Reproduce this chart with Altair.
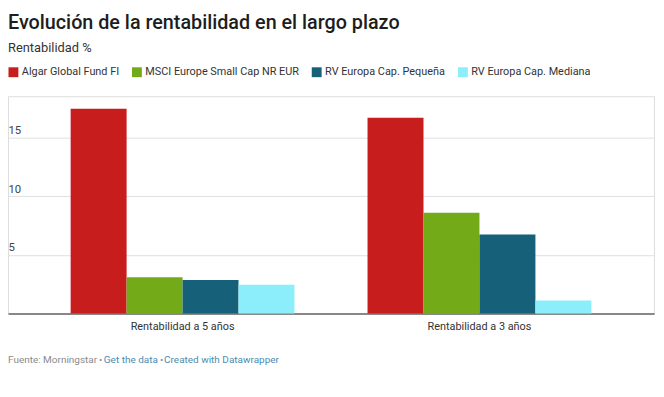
import altair as alt
import pandas as pd

# ---- data ----
periods = ["Rentabilidad a 5 años", "Rentabilidad a 3 años"]
series = ["Algar Global Fund FI", "MSCI Europe Small Cap NR EUR",
          "RV Europa Cap. Pequeña", "RV Europa Cap. Mediana"]
colors = ["#c71e1d", "#73ab18", "#17607a", "#8ceefa"]
values_5y = [17.47, 3.10, 2.87, 2.45]
values_3y = [16.71, 8.61, 6.75, 1.12]
y_ticks = [5, 10, 15]

title_text = "Evolución de la rentabilidad en el largo plazo"
subtitle_text = "Rentabilidad %"
footer_parts = [("Fuente: Morningstar", "#8a8a8a"), ("•", "#8a8a8a"),
                ("Get the data", "#4d8bb0"), ("•", "#8a8a8a"),
                ("Created with Datawrapper", "#4d8bb0")]

rows = []
for p, vals in zip(periods, [values_5y, values_3y]):
    for s, v in zip(series, vals):
        rows.append({"periodo": p, "serie": s, "valor": v})
df = pd.DataFrame(rows)

W, H = 654, 220
FONT = "Roboto"

bars = alt.Chart(df).mark_bar(strokeWidth=0).encode(
    x=alt.X("periodo:N", sort=periods,
            scale=alt.Scale(paddingInner=0.246, paddingOuter=0.211),
            axis=alt.Axis(title=None, labelAngle=0, ticks=False, domain=True,
                          domainColor="#222222", domainWidth=1.2,
                          labelFontSize=11, labelColor="#333333",
                          labelPadding=7, labelFont=FONT)),
    xOffset=alt.XOffset("serie:N", sort=series,
                        scale=alt.Scale(paddingInner=0, paddingOuter=0)),
    y=alt.Y("valor:Q", scale=alt.Scale(domain=[0, 18.55], nice=False, zero=True),
            axis=alt.Axis(title=None, values=y_ticks, ticks=False, tickSize=0,
                          domain=False, grid=True, gridColor="#e0e0e0",
                          labelAlign="left", labelPadding=0, labelOffset=-4,
                          labelBaseline="alphabetic", labelFontSize=11.5,
                          labelColor="#444444", labelFont=FONT)),
    color=alt.Color("serie:N", sort=series,
                    scale=alt.Scale(domain=series, range=colors),
                    legend=alt.Legend(title=None, orient="none", legendX=0, legendY=-30,
                                      direction="horizontal", symbolType="square",
                                      symbolSize=100, symbolStrokeWidth=0,
                                      labelFontSize=11, labelFont=FONT,
                                      labelColor="#333333", labelOffset=3,
                                      columnPadding=12, labelLimit=300,
                                      symbolOpacity=1)),
)

layers = [bars]
# footer
x_positions = [0, 92, 97, 154, 158]
for (txt, col), xp in zip(footer_parts, x_positions):
    layers.append(
        alt.Chart(alt.Data(values=[{}])).mark_text(
            text=txt, align="left", baseline="alphabetic", fontSize=10.1,
            font=FONT, color=col
        ).encode(x=alt.value(xp), y=alt.value(H + 50))
    )

chart = alt.layer(*layers).properties(
    width=W, height=H,
    title=alt.Title(title_text, subtitle=subtitle_text, anchor="start",
                    frame="group", font=FONT, fontSize=20, fontWeight=500,
                    color="#1d1d1d", subtitleFont=FONT, subtitleFontSize=13,
                    subtitleColor="#333333", subtitlePadding=9, offset=12),
    autosize=alt.AutoSizeParams(type="none"),
    padding={"left": 0, "top": 87, "right": 2, "bottom": 62},
).configure_view(strokeWidth=0, stroke="transparent").configure(background="white")

chart.save("out.html", embed_options={"renderer": "svg", "actions": False})
